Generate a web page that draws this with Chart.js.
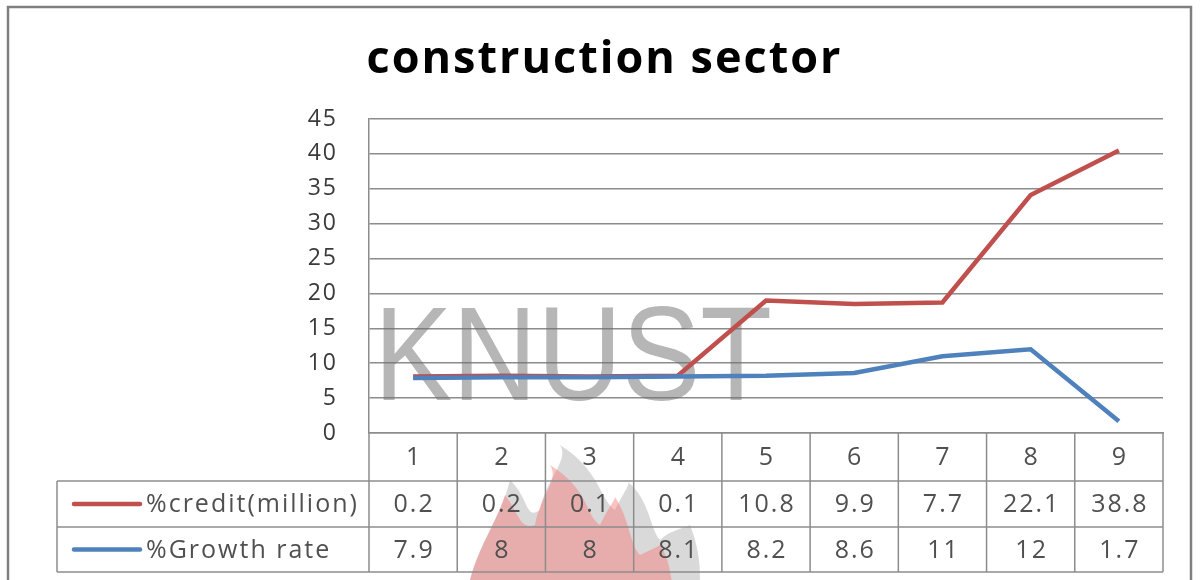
<!DOCTYPE html>
<html>
<head>
<meta charset="utf-8">
<script src="https://cdn.jsdelivr.net/npm/chart.js@4.4.1/dist/chart.umd.min.js"></script>
<style>
    html, body { margin: 0; padding: 0; background: #fff; }
    #wrap { position: relative; width: 1201px; height: 580px; }
</style>
</head>
<body>
<div id="wrap"><canvas id="chartConstruction"></canvas></div>
<script>
const categories = ['1', '2', '3', '4', '5', '6', '7', '8', '9'];
const creditValues = [0.2, 0.2, 0.1, 0.1, 10.8, 9.9, 7.7, 22.1, 38.8];
const growthValues = [7.9, 8, 8, 8.1, 8.2, 8.6, 11, 12, 1.7];
const yTicks = [0, 5, 10, 15, 20, 25, 30, 35, 40, 45];

const RED = '#C0504D';
const BLUE = '#4F81BD';
const GRID = '#8c8c8c';
const TEXT = '#3a3a3a';
const FONT = "'Open Sans', 'Noto Sans', sans-serif";

// excel style data table under the plot, columns taken from the x scale
const dataTablePlugin = {
    id: 'dataTable',
    afterDraw(chart) {
        const ctx = chart.ctx;
        const x = chart.scales.x;
        const area = chart.chartArea;
        const rowTop = [area.bottom, 481, 527, 572];
        const tableLeft = 57;
        const colW = (area.right - area.left) / categories.length;

        ctx.save();
        ctx.letterSpacing = '2px';
        ctx.strokeStyle = GRID;
        ctx.lineWidth = 1.5;

        // header verticals
        for (let i = 0; i <= categories.length; i++) {
            const xx = area.left + i * colW;
            ctx.beginPath();
            ctx.moveTo(xx, rowTop[0]);
            ctx.lineTo(xx, rowTop[3]);
            ctx.stroke();
        }
        // horizontal rows
        for (let r = 1; r < rowTop.length; r++) {
            ctx.beginPath();
            ctx.moveTo(tableLeft, rowTop[r]);
            ctx.lineTo(area.right, rowTop[r]);
            ctx.stroke();
        }
        ctx.beginPath();
        ctx.moveTo(tableLeft, rowTop[1]);
        ctx.lineTo(tableLeft, rowTop[3]);
        ctx.stroke();

        ctx.fillStyle = '#505050';
        ctx.font = '25px ' + FONT;
        ctx.textAlign = 'center';
        ctx.textBaseline = 'middle';
        categories.forEach((c, i) => {
            const cx = x.getPixelForValue(i) + 1;
            ctx.fillText(c, cx, (rowTop[0] + rowTop[1]) / 2 + 1);
            ctx.fillText(String(creditValues[i]), cx, (rowTop[1] + rowTop[2]) / 2 + 1);
            ctx.fillText(String(growthValues[i]), cx, (rowTop[2] + rowTop[3]) / 2 + 1);
        });

        // legend keys inside table
        const rows = [
            { label: '%credit(million)', color: RED, y: (rowTop[1] + rowTop[2]) / 2 },
            { label: '%Growth rate', color: BLUE, y: (rowTop[2] + rowTop[3]) / 2 }
        ];
        rows.forEach(row => {
            ctx.strokeStyle = row.color;
            ctx.lineWidth = 4.5;
            ctx.lineCap = 'round';
            ctx.beginPath();
            ctx.moveTo(74, row.y);
            ctx.lineTo(140, row.y);
            ctx.stroke();
            ctx.textAlign = 'left';
            ctx.fillStyle = '#505050';
            ctx.fillText(row.label, 146, row.y + 1);
        });
        ctx.restore();
    }
};

// scanned thesis watermark + outer frame
const decorPlugin = {
    id: 'decor',
    beforeDraw(chart) {
        chart.ctx.letterSpacing = '2px';
    },
    beforeDatasetsDraw(chart) {
        const ctx = chart.ctx;
        ctx.save();
        ctx.letterSpacing = '0px';
        // flame
        ctx.fillStyle = 'rgba(160,160,160,0.4)';
        ctx.beginPath();
        ctx.moveTo(470, 580);
        ctx.bezierCurveTo(480, 540, 500, 520, 510, 480);
        ctx.bezierCurveTo(530, 500, 525, 520, 540, 510);
        ctx.bezierCurveTo(545, 480, 570, 460, 560, 445);
        ctx.bezierCurveTo(600, 470, 600, 500, 615, 510);
        ctx.bezierCurveTo(625, 490, 630, 485, 628, 482);
        ctx.bezierCurveTo(650, 500, 650, 530, 660, 540);
        ctx.bezierCurveTo(670, 530, 680, 530, 690, 525);
        ctx.bezierCurveTo(700, 550, 700, 570, 700, 580);
        ctx.closePath();
        ctx.fill();
        ctx.fillStyle = 'rgba(248,120,120,0.45)';
        ctx.beginPath();
        ctx.moveTo(470, 580);
        ctx.bezierCurveTo(480, 545, 495, 525, 505, 495);
        ctx.bezierCurveTo(520, 515, 520, 530, 535, 525);
        ctx.bezierCurveTo(540, 495, 560, 480, 550, 465);
        ctx.bezierCurveTo(590, 490, 585, 515, 600, 525);
        ctx.bezierCurveTo(610, 505, 615, 500, 615, 497);
        ctx.bezierCurveTo(630, 520, 630, 545, 640, 555);
        ctx.bezierCurveTo(650, 550, 655, 548, 660, 545);
        ctx.bezierCurveTo(670, 560, 670, 575, 672, 580);
        ctx.closePath();
        ctx.fill();

        // KNUST text
        ctx.fillStyle = 'rgba(110,110,110,0.5)';
        ctx.font = '134px ' + "'Liberation Sans', sans-serif";
        ctx.textAlign = 'left';
        ctx.textBaseline = 'alphabetic';
        ctx.fillText('KNUST', 374, 400, 398);
        ctx.restore();
    },
    afterDraw(chart) {
        const ctx = chart.ctx;
        ctx.save();
        ctx.strokeStyle = '#7f7f7f';
        ctx.lineWidth = 2.5;
        ctx.strokeRect(8, 7, 1183, 600);
        ctx.restore();
    }
};

function LineChartStacked(canvas, options) {
    const ctx = canvas.getContext('2d');

    new Chart(ctx, {
        type: 'line',
        data: {
            labels: options.labels,
            datasets: [{
                label: '%Growth rate',
                data: options.growth,
                borderColor: BLUE,
                borderWidth: 4.5,
                pointRadius: 0,
                tension: 0,
                fill: false
            }, {
                label: '%credit(million)',
                data: options.credit,
                borderColor: RED,
                borderWidth: 4.5,
                pointRadius: 0,
                tension: 0,
                fill: false
            }]
        },
        options: {
            responsive: true,
            maintainAspectRatio: false,
            animation: false,
            layout: {
                padding: { left: 46, right: 38, top: 0, bottom: 147 }
            },
            plugins: {
                legend: { display: false },
                tooltip: { enabled: false },
                title: {
                    display: true,
                    text: 'construction sector',
                    color: '#000',
                    font: { family: FONT, size: 45, weight: 'bold', lineHeight: 1.2 },
                    padding: { top: 33, bottom: 32 }
                }
            },
            scales: {
                x: {
                    offset: true,
                    afterFit(scale) { scale.height = 0; },
                    grid: { display: false },
                    border: { display: true, color: GRID, width: 1.5 },
                    ticks: { display: false }
                },
                y: {
                    stacked: true,
                    min: 0,
                    max: 45,
                    afterFit(scale) { scale.width = 369 - 46; },
                    afterBuildTicks(scale) { scale.ticks = yTicks.map(v => ({ value: v })); },
                    grid: { color: GRID, lineWidth: 1.5, drawTicks: false },
                    border: { display: true, color: GRID, width: 1.5 },
                    ticks: {
                        color: TEXT,
                        padding: 31,
                        font: { family: FONT, size: 23 }
                    }
                }
            }
        },
        plugins: [decorPlugin, dataTablePlugin]
    });
}

LineChartStacked(document.getElementById('chartConstruction'), {
    labels: categories,
    growth: growthValues,
    credit: creditValues
});
</script>
</body>
</html>
